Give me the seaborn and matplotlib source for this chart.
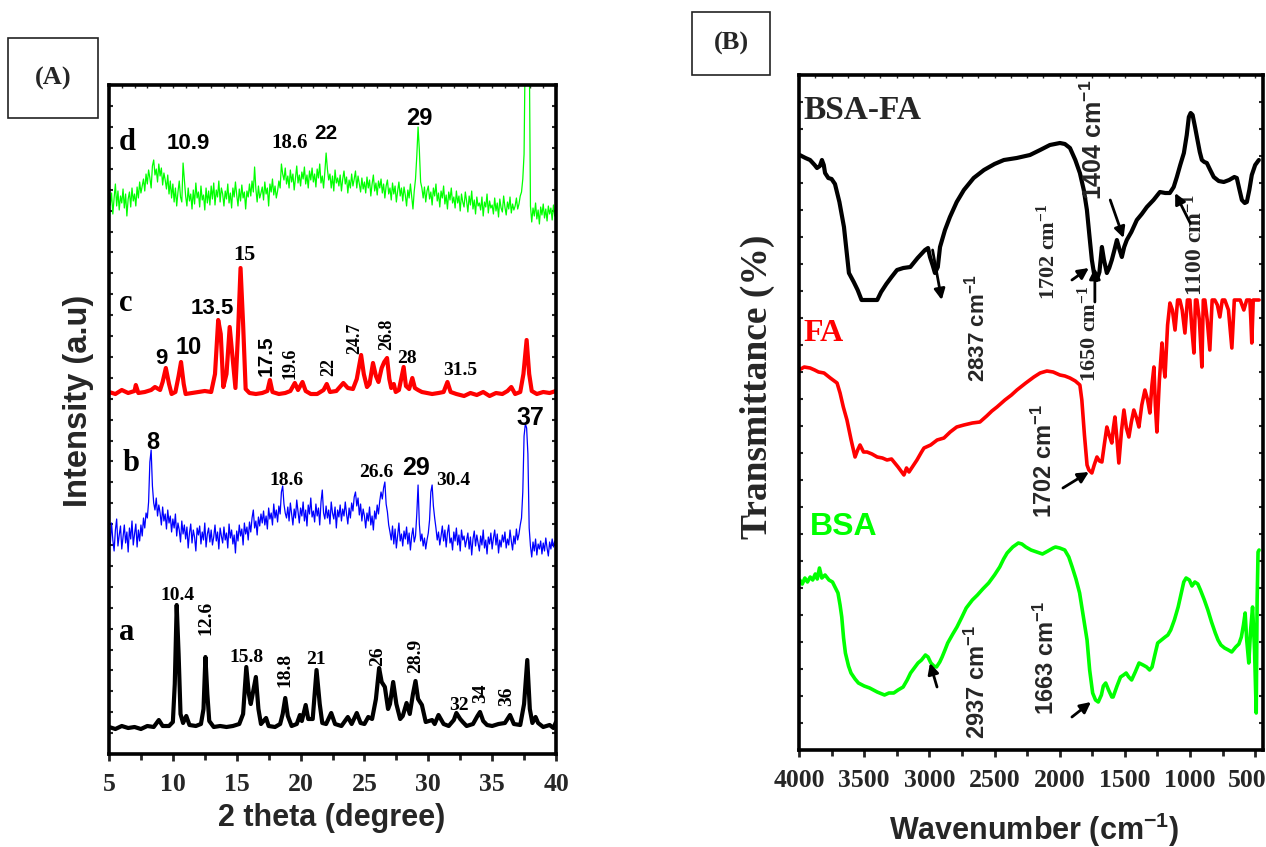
import numpy as np
import matplotlib
matplotlib.use('Agg')
import matplotlib.pyplot as plt
import matplotlib.transforms as mtransforms
from matplotlib.patches import Rectangle
from matplotlib.ticker import MultipleLocator
import seaborn as sns

W, H = 1266, 847
SERIF = 'Liberation Serif'
SANS = 'Liberation Sans'
LIME = '#00ff00'

# ---------------- panel A : XRD ----------------
# scan grid of the noisy patterns b and d (0.1 deg step)
scan_two_theta = np.round(np.arange(5.0, 40.001, 0.1), 1)

a_two_theta = [5.0, 5.5, 6.0, 6.5, 7.0, 7.5, 8.0, 8.5, 8.9, 9.2, 9.7, 10.0, 10.15, 10.3, 10.45,
               10.6, 10.8, 11.05, 11.3, 11.8, 12.2, 12.4, 12.55, 12.7, 12.85, 13.2, 13.7, 14.2,
               14.7, 15.2, 15.5, 15.75, 15.95, 16.1, 16.5, 16.7, 16.9, 17.3, 17.5, 18.0, 18.4,
               18.6, 18.8, 19.0, 19.3, 19.7, 19.95, 20.1, 20.4, 20.6, 20.95, 21.25, 21.5, 21.7,
               22.0, 22.4, 22.7, 23.2, 23.7, 24.0, 24.4, 24.7, 25.0, 25.3, 25.6, 25.9, 26.15,
               26.35, 26.6, 26.85, 27.0, 27.25, 27.5, 27.8, 28.0, 28.3, 28.55, 28.8, 29.0, 29.2,
               29.5, 29.8, 30.3, 30.5, 30.8, 31.2, 31.6, 32.0, 32.2, 32.5, 32.7, 33.0, 33.5,
               33.85, 34.05, 34.3, 34.6, 35.0, 35.5, 36.0, 36.4, 36.7, 37.2, 37.5, 37.75, 37.95,
               38.15, 38.4, 38.6, 39.0, 39.5, 39.8, 40.0]
a_counts = [27, 25, 28, 26, 27, 25, 28, 27, 34, 28, 28, 32, 70, 149, 100,
            40, 31, 38, 29, 28, 30, 45, 97, 60, 33, 27, 28, 27,
            28, 30, 40, 87, 60, 50, 77, 45, 30, 36, 28, 27, 30,
            40, 56, 38, 28, 30, 39, 33, 49, 35, 35, 84, 50, 31,
            30, 41, 30, 28, 37, 30, 41, 31, 30, 37, 35, 55, 86,
            72, 67, 45, 50, 72, 50, 35, 38, 51, 40, 60, 73, 55,
            49, 32, 34, 30, 39, 30, 28, 34, 41, 35, 32, 28, 30,
            38, 42, 33, 29, 28, 30, 31, 39, 30, 29, 50, 94, 45,
            31, 37, 31, 27, 29, 26, 32]

# one row per degree (x.0 ... x.9)
b_counts = [226, 210, 231, 214, 203, 224, 235, 208, 219, 228,
            205, 217, 229, 211, 222, 202, 226, 215, 233, 209,
            220, 230, 207, 224, 213, 229, 218, 236, 226, 241,
            236, 252, 292, 304, 268, 251, 244, 256, 238, 249,
            241, 229, 247, 233, 240, 225, 244, 231, 238, 222,
            235, 226, 240, 218, 231, 224, 212, 233, 220, 229,
            215, 227, 206, 221, 230, 211, 224, 217, 203, 226,
            219, 228, 210, 222, 214, 231, 207, 220, 226, 212,
            224, 209, 217, 229, 213, 222, 205, 226, 218, 211,
            227, 214, 221, 206, 230, 216, 224, 210, 219, 201,
            223, 213, 229, 218, 225, 209, 231, 220, 227, 214,
            232, 222, 236, 244, 226, 233, 219, 237, 228, 240,
            231, 243, 229, 238, 225, 246, 235, 241, 229, 250,
            236, 244, 232, 248, 240, 262, 268, 250, 241, 236,
            247, 233, 251, 240, 229, 245, 236, 254, 242, 231,
            246, 238, 252, 233, 244, 228, 249, 240, 256, 237,
            243, 232, 250, 238, 246, 229, 252, 264, 241, 235,
            248, 236, 244, 230, 252, 241, 235, 247, 226, 244,
            237, 249, 233, 245, 238, 252, 240, 230, 246, 236,
            251, 243, 257, 262, 248, 256, 239, 250, 233, 245,
            238, 226, 241, 233, 247, 229, 238, 224, 243, 235,
            249, 240, 253, 262, 255, 266, 272, 250, 242, 229,
            222, 214, 228, 210, 225, 206, 219, 231, 213, 220,
            208, 223, 215, 227, 210, 221, 204, 218, 226, 212,
            218, 240, 269, 230, 213, 220, 208, 216, 205, 214,
            221, 234, 262, 269, 248, 236, 226, 214, 222, 209,
            218, 228, 213, 224, 207, 221, 229, 211, 216, 204,
            222, 213, 226, 209, 219, 203, 224, 214, 218, 207,
            214, 221, 205, 217, 199, 215, 223, 208, 219, 211,
            203, 218, 209, 224, 206, 214, 200, 217, 210, 221,
            205, 216, 224, 209, 220, 201, 214, 207, 219, 212,
            222, 206, 215, 209, 224, 213, 204, 218, 210, 225,
            214, 220, 229, 236, 262, 318, 330, 326, 300, 226,
            208, 197, 212, 203, 215, 199, 210, 205, 213, 200,
            211, 203, 216, 206, 198, 212, 205, 215, 207, 213,
            210]

c_two_theta = [5.0, 5.5, 6.0, 6.5, 7.0, 7.1, 7.3, 7.8, 8.3, 8.6, 9.0, 9.2, 9.45, 9.7, 9.9, 10.2,
               10.45, 10.64, 10.85, 11.0, 11.5, 12.0, 12.5, 13.0, 13.3, 13.55, 13.75, 13.95, 14.2,
               14.45, 14.65, 14.9, 15.1, 15.3, 15.5, 15.7, 16.0, 16.5, 17.0, 17.4, 17.6, 17.8,
               18.3, 18.8, 19.2, 19.55, 19.8, 20.15, 20.4, 20.8, 21.3, 21.8, 22.05, 22.3, 22.8,
               23.35, 23.7, 24.1, 24.4, 24.74, 24.95, 25.2, 25.4, 25.67, 25.9, 26.1, 26.35, 26.55,
               26.77, 26.95, 27.1, 27.3, 27.45, 27.7, 28.07, 28.25, 28.5, 28.75, 28.95, 29.2, 29.5,
               29.9, 30.3, 30.8, 31.2, 31.5, 31.75, 32.2, 32.8, 33.3, 33.8, 34.3, 34.8, 35.3, 35.8,
               36.2, 36.5, 36.8, 37.2, 37.45, 37.7, 37.9, 38.1, 38.5, 39.0, 39.5, 40.0]
c_counts = [362, 360, 364, 361, 363, 369, 361, 362, 364, 367, 364, 372, 386, 370, 360, 362,
            378, 392, 370, 360, 361, 362, 363, 362, 380, 434, 420, 367, 380,
            427, 400, 366, 420, 486, 430, 365, 361, 360, 361, 363, 374, 362,
            360, 361, 363, 371, 364, 372, 363, 360, 360, 364, 370, 362, 363,
            371, 366, 365, 375, 399, 380, 367, 370, 391, 378, 372, 386, 392,
            396, 375, 366, 370, 362, 364, 387, 368, 365, 376, 366, 364, 362,
            361, 360, 361, 362, 372, 362, 360, 358, 361, 359, 362, 358, 361, 360,
            363, 367, 360, 362, 380, 414, 380, 363, 360, 362, 361, 363]

d_counts = [566, 549, 561, 540, 556, 570, 548, 563, 544, 558,
            551, 565, 546, 560, 538, 555, 562, 547, 566, 553,
            560, 548, 567, 556, 572, 561, 568, 575, 563, 580,
            570, 584, 576, 566, 588, 594, 579, 585, 572, 590,
            578, 586, 569, 581, 574, 565, 579, 560, 573, 556,
            570, 552, 566, 548, 562, 573, 557, 552, 591, 574,
            558, 548, 566, 553, 560, 545, 564, 550, 571, 556,
            562, 547, 568, 554, 559, 544, 566, 551, 563, 549,
            568, 555, 571, 549, 564, 557, 573, 552, 566, 560,
            548, 563, 555, 570, 551, 561, 546, 566, 557, 572,
            559, 548, 565, 553, 569, 556, 562, 545, 563, 557,
            570, 558, 573, 562, 587, 565, 552, 568, 556, 561,
            567, 554, 572, 560, 566, 548, 570, 562, 575, 559,
            568, 556, 563, 573, 566, 590, 580, 574, 586, 570,
            578, 566, 584, 572, 580, 564, 576, 588, 571, 579,
            568, 582, 575, 587, 570, 579, 566, 583, 574, 586,
            572, 580, 567, 585, 576, 590, 571, 578, 566, 582,
            601, 585, 574, 580, 566, 578, 563, 584, 571, 576,
            568, 579, 563, 575, 583, 570, 577, 561, 574, 566,
            580, 568, 575, 583, 566, 578, 570, 562, 576, 565,
            572, 561, 577, 566, 574, 558, 570, 579, 563, 571,
            559, 573, 566, 575, 561, 570, 556, 568, 574, 560,
            566, 554, 571, 560, 568, 552, 563, 572, 558, 566,
            553, 567, 559, 548, 564, 556, 570, 557, 545, 563,
            575, 598, 627, 604, 572, 566, 556, 567, 552, 563,
            568, 555, 562, 549, 566, 558, 570, 553, 561, 547,
            563, 556, 568, 550, 559, 545, 562, 554, 566, 551,
            557, 546, 563, 551, 558, 543, 560, 552, 547, 562,
            553, 542, 558, 549, 563, 545, 554, 540, 557, 548,
            551, 544, 557, 538, 552, 547, 560, 541, 553, 546,
            549, 540, 556, 543, 551, 537, 555, 546, 542, 558,
            547, 539, 552, 545, 557, 541, 550, 544, 548, 556,
            545, 550, 558, 562, 575, 600, 720, 720, 720, 720,
            548, 532, 546, 538, 551, 535, 544, 530, 547, 539,
            550, 536, 545, 533, 548, 540, 546, 534, 549, 538,
            545]

# (2theta, height, text, family, size, rotation)
xrd_labels = [
    (6.35, 121, 'a', SERIF, 22, 0), (10.35, 158, '10.4', SERIF, 14, 0),
    (12.6, 136, '12.6', SERIF, 14, 90), (15.75, 96, '15.8', SERIF, 14, 0),
    (18.76, 84, '18.8', SERIF, 14, 90), (21.2, 94, '21', SERIF, 14, 0),
    (26.05, 98, '26', SERIF, 14, 90), (29.0, 98, '28.9', SERIF, 14, 90),
    (32.37, 49, '32', SERIF, 14, 0), (34.1, 61, '34', SERIF, 14, 90),
    (36.15, 58, '36', SERIF, 14, 90),
    (6.7, 291, 'b', SERIF, 22, 0), (8.46, 312, '8', SANS, 17, 0),
    (18.9, 274, '18.6', SERIF, 14, 0), (25.92, 282, '26.6', SERIF, 14, 0),
    (29.0, 286, '29', SANS, 18, 0), (31.95, 274, '30.4', SERIF, 14, 0),
    (38.03, 336, '37', SANS, 18, 0),
    (6.31, 451, 'c', SERIF, 22, 0), (9.07, 396, '9', SANS, 16, 0),
    (11.2, 407, '10', SANS, 17, 0), (13.1, 446, '13.5', SANS, 16, 0),
    (15.6, 499, '15', SERIF, 16, 0), (17.33, 398, '17.5', SANS, 15, 90),
    (19.16, 391, '19.6', SERIF, 13, 90), (22.2, 387, '22', SERIF, 13, 90),
    (24.27, 416, '24.7', SERIF, 13, 90), (26.76, 420, '26.8', SERIF, 13, 90),
    (28.36, 396, '28', SERIF, 14, 0), (32.53, 384, '31.5', SERIF, 14, 0),
    (6.42, 612, 'd', SERIF, 22, 0), (11.2, 611, '10.9', SANS, 16, 0),
    (19.16, 611, '18.6', SERIF, 15, 0), (22.0, 621, '22', SANS, 15, 0),
    (29.3, 636, '29', SANS, 17, 0),
]

# ---------------- panel B : FTIR ----------------
bsafa_wavenumber = [3995, 3950, 3915, 3880, 3862, 3840, 3824, 3810, 3800, 3775, 3750, 3724, 3690,
                    3655, 3617, 3580, 3550, 3520, 3480, 3440, 3400, 3370, 3330, 3290, 3248, 3200,
                    3146, 3090, 3033, 3010, 2995, 2975, 2957, 2935, 2918, 2880, 2842, 2790, 2735,
                    2660, 2581, 2500, 2428, 2330, 2228, 2150, 2075, 1998, 1960, 1921, 1880, 1845,
                    1815, 1791, 1770, 1753, 1737, 1715, 1695, 1676, 1660, 1638, 1620, 1600, 1580,
                    1561, 1540, 1523, 1505, 1485, 1450, 1408, 1370, 1331, 1280, 1231, 1190, 1155,
                    1125, 1101, 1075, 1047, 1025, 1009, 995, 980, 960, 947, 925, 909, 890, 871, 845,
                    818, 780, 741, 700, 660, 641, 620, 602, 580, 564, 545, 526, 500, 472]
bsafa_transmittance = [595, 592, 590, 585, 582, 584, 590, 585, 577, 572, 571, 566, 548,
                       523, 477, 468, 460, 450, 450, 450, 450, 458, 466, 473, 480, 482,
                       483, 492, 500, 502, 493, 485, 477, 483, 503, 520, 533, 548, 560,
                       572, 580, 586, 590, 592, 595, 600, 605, 607, 606, 602, 590, 577,
                       560, 540, 512, 490, 477, 470, 478, 503, 490, 477, 482, 490, 500,
                       510, 500, 493, 503, 510, 518, 530, 536, 543, 550, 558, 557, 557,
                       563, 573, 585, 597, 615, 633, 637, 635, 622, 613, 598, 590, 588, 587, 580,
                       573, 569, 568, 570, 573, 572, 560, 550, 547, 548, 560, 575, 585, 590]

fa_wavenumber = [4000, 3960, 3915, 3880, 3850, 3808, 3760, 3708, 3685, 3660, 3632, 3600, 3570,
                 3550, 3532, 3505, 3478, 3440, 3400, 3360, 3325, 3290, 3271, 3240, 3195, 3175,
                 3156, 3125, 3095, 3060, 3041, 2990, 2940, 2888, 2840, 2790, 2735, 2670, 2612,
                 2560, 2520, 2481, 2420, 2370, 2328, 2260, 2198, 2150, 2098, 2050, 1998, 1960,
                 1921, 1880, 1845, 1830, 1810, 1790, 1776, 1753, 1735, 1714, 1695, 1676, 1658,
                 1638, 1620, 1600, 1588, 1576, 1560, 1546, 1525, 1507, 1488, 1469, 1450, 1431,
                 1410, 1392, 1370, 1346, 1325, 1308, 1292, 1277, 1266, 1254, 1235, 1215, 1203,
                 1192, 1172, 1154, 1135, 1115, 1095, 1078, 1060, 1039, 1020, 1001, 985, 970, 958,
                 947, 928, 909, 898, 886, 868, 848, 830, 810, 790, 771, 752, 733, 705, 679, 660,
                 641, 615, 587, 565, 541, 533, 526, 515, 503, 470]
fa_transmittance = [380, 383, 382, 380, 378, 377, 372, 367, 357, 343, 330, 310, 293,
                    300, 305, 298, 298, 296, 293, 292, 290, 291, 288, 283, 275, 282,
                    278, 284, 290, 298, 302, 305, 310, 312, 318, 323, 325, 327, 328,
                    334, 339, 343, 350, 355, 360, 367, 373, 377, 379, 378, 375, 374,
                    372, 369, 365, 350, 315, 285, 280, 277, 285, 293, 289, 288, 305,
                    323, 315, 307, 322, 333, 310, 287, 320, 340, 322, 313, 328, 340,
                    332, 323, 345, 360, 350, 337, 365, 383, 345, 318, 370, 407, 385,
                    373, 425, 447, 440, 420, 450, 450, 440, 417, 450, 450, 420, 397, 450,
                    450, 430, 383, 450, 450, 430, 400, 450, 450, 445, 433, 450, 450, 440, 402, 450,
                    450, 450, 440, 450, 450, 430, 407, 450, 450, 450]

bsa_wavenumber = [3994, 3975, 3955, 3935, 3914, 3895, 3875, 3860, 3843, 3825, 3800, 3770, 3743,
                  3720, 3701, 3685, 3672, 3658, 3644, 3620, 3601, 3570, 3544, 3500, 3458, 3400,
                  3344, 3310, 3273, 3240, 3201, 3170, 3144, 3115, 3087, 3060, 3030, 3010, 2988,
                  2965, 2945, 2920, 2902, 2880, 2859, 2820, 2788, 2750, 2717, 2670, 2631, 2590,
                  2545, 2500, 2460, 2430, 2403, 2360, 2317, 2290, 2260, 2220, 2175, 2132, 2090,
                  2050, 2032, 2000, 1961, 1930, 1904, 1875, 1847, 1820, 1790, 1770, 1747, 1725,
                  1704, 1680, 1665, 1647, 1625, 1600, 1590, 1560, 1533, 1510, 1490, 1470, 1448,
                  1420, 1391, 1360, 1333, 1310, 1291, 1270, 1248, 1220, 1191, 1170, 1148, 1120,
                  1091, 1070, 1048, 1030, 1005, 985, 963, 940, 920, 890, 863, 835, 806, 785, 763,
                  735, 706, 680, 649, 625, 606, 590, 577, 565, 549, 535, 520, 505, 492, 485, 478, 470]
bsa_transmittance = [170, 166, 172, 168, 173, 170, 176, 171, 182, 172, 175, 170, 168,
                     162, 157, 145, 133, 112, 97, 84, 77, 71, 67, 64, 62, 58,
                     55, 57, 57, 60, 63, 70, 77, 82, 87, 90, 95, 93, 87,
                     84, 83, 88, 93, 100, 107, 116, 123, 133, 142, 150, 155, 161,
                     167, 175, 183, 191, 197, 203, 207, 206, 203, 200, 198, 196, 199,
                     202, 203, 202, 200, 193, 183, 171, 157, 135, 110, 80, 57, 50,
                     48, 55, 64, 67, 60, 53, 53, 64, 73, 75, 77, 73, 70,
                     78, 87, 85, 83, 80, 83, 95, 107, 110, 113, 115, 120, 130,
                     143, 155, 168, 172, 170, 164, 168, 166, 160, 150, 140, 128, 117, 110, 105,
                     102, 100, 98, 103, 106, 113, 125, 137, 110, 87, 120, 143, 100, 37, 150, 198, 200]

# (wavenumber, height, text, family, size)  -- all vertical
ftir_labels = [
    (2635, 422, '2837 cm$^{-1}$', SANS, 16), (2090, 498, '1702 cm$^{-1}$', SERIF, 16),
    (1737, 610, '1404 cm$^{-1}$', SANS, 18), (1776, 416, '1650 cm$^{-1}$', SERIF, 16),
    (955, 505, '1100 cm$^{-1}$', SERIF, 17), (2121, 289, '1702 cm$^{-1}$', SANS, 17),
    (2635, 68, '2937 cm$^{-1}$', SANS, 17), (2106, 92, '1663 cm$^{-1}$', SANS, 17),
]
# (tail, head)
ftir_arrows = [
    ((2975, 500), (2905, 450)), ((1906, 470), (1776, 482)), ((1730, 448), (1730, 482)),
    ((1612, 550), (1510, 512)), ((999, 527), (1114, 557)), ((1975, 262), (1776, 278)),
    ((2941, 63), (2995, 87)), ((1906, 33), (1760, 48)),
]


def px_box(left, top, right, bottom):
    return [left / W, 1 - bottom / H, (right - left) / W, (bottom - top) / H]


def style_axes(ax, xmajor, xminor, ystep, topstep):
    for s in ax.spines.values():
        s.set_visible(True)
        s.set_linewidth(2.6)
        s.set_color('black')
    ax.xaxis.set_major_locator(MultipleLocator(xmajor))
    ax.xaxis.set_minor_locator(MultipleLocator(xminor))
    ax.tick_params(axis='x', which='major', direction='out', length=5, width=2,
                   pad=9, labelsize=18.5, bottom=True, top=False)
    ax.tick_params(axis='x', which='minor', direction='out', length=4, width=2,
                   bottom=True, top=False)
    ax.yaxis.set_major_locator(MultipleLocator(ystep))
    ax.tick_params(axis='y', which='major', direction='in', length=3, width=1.5,
                   left=True, right=True, labelleft=False)
    top = ax.secondary_xaxis('top')
    top.xaxis.set_major_locator(MultipleLocator(topstep))
    top.tick_params(axis='x', direction='in', length=2.5, width=1, labeltop=False)
    top.spines['top'].set_visible(False)
    ax.set_xlabel('')
    ax.set_ylabel('')


def draw_xrd(ax):
    sns.lineplot(x=a_two_theta, y=a_counts, ax=ax, color='black', linewidth=3,
                 estimator=None, sort=False, legend=False)
    sns.lineplot(x=scan_two_theta, y=b_counts, ax=ax, color='#0000ff', linewidth=0.9,
                 estimator=None, sort=False, legend=False)
    sns.lineplot(x=c_two_theta, y=c_counts, ax=ax, color='#ff0000', linewidth=3,
                 estimator=None, sort=False, legend=False)
    sns.lineplot(x=scan_two_theta, y=d_counts, ax=ax, color=LIME, linewidth=0.9,
                 estimator=None, sort=False, legend=False)
    ax.set_xlim(5, 40)
    ax.set_ylim(0, 669)
    style_axes(ax, 5, 2.5, 20.9, 1)
    for x, y, t, fam, size, rot in xrd_labels:
        ax.text(x, y, t, family=fam, fontsize=size, rotation=rot,
                ha='center', va='center', color='black')


def draw_ftir(ax):
    sns.lineplot(x=bsafa_wavenumber, y=bsafa_transmittance, ax=ax, color='black',
                 linewidth=3, estimator=None, sort=False, legend=False)
    sns.lineplot(x=fa_wavenumber, y=fa_transmittance, ax=ax, color='#ff0000',
                 linewidth=2.6, estimator=None, sort=False, legend=False)
    sns.lineplot(x=bsa_wavenumber, y=bsa_transmittance, ax=ax, color=LIME,
                 linewidth=2.6, estimator=None, sort=False, legend=False)
    ax.set_xlim(4000, 440)
    ax.set_ylim(0, 675)
    style_axes(ax, 500, 250, 27, 125)
    ax.text(3965, 640, 'BSA-FA', family=SERIF, fontsize=24, ha='left', va='center')
    ax.text(3962, 417, 'FA', family=SERIF, fontsize=23, ha='left', va='center', color='#ff0000')
    ax.text(3916, 223, 'BSA', family=SANS, fontsize=23, ha='left', va='center', color=LIME)
    for x, y, t, fam, size in ftir_labels:
        ax.text(x, y, t, family=fam, fontsize=size, rotation=90, ha='center', va='center')
    for tail, head in ftir_arrows:
        ax.annotate('', xy=head, xytext=tail,
                    arrowprops=dict(arrowstyle='-|>', color='black', lw=2,
                                    mutation_scale=16, shrinkA=0, shrinkB=0))


def keep_last_label_inside(fig, ax):
    # the "500" label sits on the figure edge; pull it inside
    fig.canvas.draw()
    for lbl in ax.get_xticklabels():
        if lbl.get_text() == '500':
            lbl.set_horizontalalignment('right')
            shift = mtransforms.ScaledTranslation(8 / 72, 0, fig.dpi_scale_trans)
            lbl.set_transform(lbl.get_transform() + shift)


def panel_tag(left, top, right, bottom, text):
    fig = plt.gcf()
    fig.add_artist(Rectangle((left / W, 1 - bottom / H), (right - left) / W,
                             (bottom - top) / H, transform=fig.transFigure,
                             fill=False, lw=1.2, ec='#222222'))
    fig.text((left + right) / 2 / W, 1 - (top + bottom) / 2 / H, text,
             family=SERIF, fontsize=19, ha='center', va='center')


def main():
    sns.set_style('ticks')
    plt.rcParams['font.family'] = [SERIF, 'DejaVu Sans']
    plt.rcParams['font.weight'] = 'bold'
    plt.rcParams['mathtext.default'] = 'regular'

    fig = plt.figure(figsize=(W / 100, H / 100), dpi=100)
    ax_a = fig.add_axes(px_box(109, 85, 556, 754))
    ax_b = fig.add_axes(px_box(799, 75, 1263, 750))
    draw_xrd(ax_a)
    draw_ftir(ax_b)

    fig.text(332 / W, 1 - 818 / H, '2 theta (degree)', family=SANS, fontsize=22,
             ha='center', va='center')
    fig.text(79 / W, 1 - 401 / H, 'Intensity (a.u)', family=SANS, fontsize=23.5,
             rotation=90, ha='center', va='center')
    fig.text(1034 / W, 1 - 830 / H, 'Wavenumber (cm$^{-1}$)', family=SANS, fontsize=22,
             ha='center', va='center')
    fig.text(757 / W, 1 - 387 / H, 'Transmittance (%)', family=SERIF, fontsize=27,
             rotation=90, ha='center', va='center')

    panel_tag(8, 38, 98, 118, '(A)')
    panel_tag(692, 12, 770, 75, '(B)')

    keep_last_label_inside(fig, ax_b)
    fig.savefig('out.png', dpi=100)


if __name__ == "__main__":
    main()
